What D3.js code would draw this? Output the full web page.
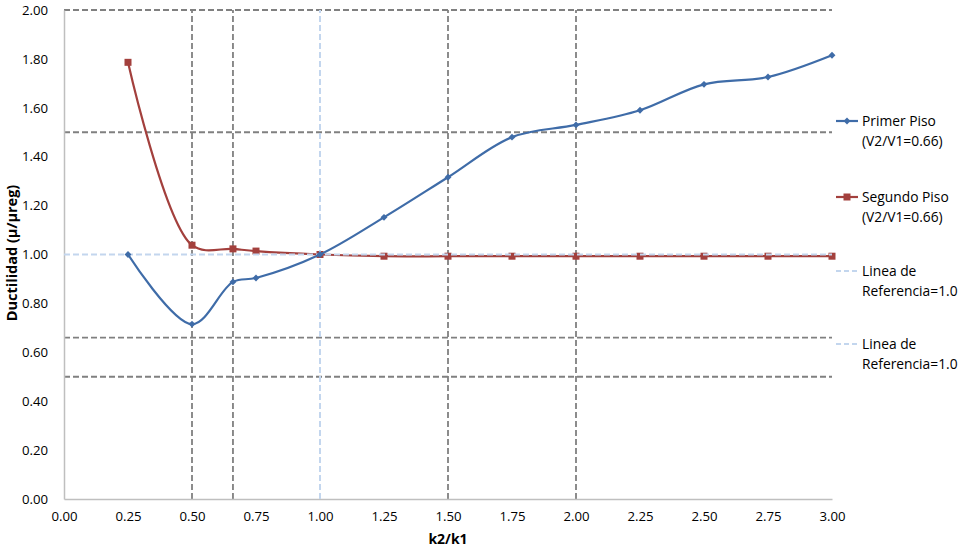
<!DOCTYPE html>
<html><head><meta charset="utf-8">
<script src="https://cdn.jsdelivr.net/npm/d3@7"></script>
<style>body{margin:0;background:#fff}svg{display:block}text{font-family:"Open Sans","Noto Sans",sans-serif}</style>
</head><body>
<svg id="c" width="963" height="547"></svg>
<script>
const xValues = [0.25, 0.5, 0.66, 0.75, 1.0, 1.25, 1.5, 1.75, 2.0, 2.25, 2.5, 2.75, 3.0];
const primerPiso = [1.00, 0.715, 0.888, 0.904, 1.00, 1.152, 1.316, 1.48, 1.53, 1.59, 1.696, 1.726, 1.815];
const segundoPiso = [1.786, 1.038, 1.023, 1.014, 1.00, 0.993, 0.993, 0.993, 0.993, 0.993, 0.993, 0.993, 0.993];
const refH = [[0, 1.0], [3, 1.0]];
const refV = [[1.0, 0], [1.0, 2.0]];
const gridX = [0.5, 0.66, 1.5, 2.0];
const gridY = [2.0, 1.5, 0.66, 0.5];
const xTicks = [0, 0.25, 0.5, 0.75, 1.0, 1.25, 1.5, 1.75, 2.0, 2.25, 2.5, 2.75, 3.0];
const yTicks = [0, 0.2, 0.4, 0.6, 0.8, 1.0, 1.2, 1.4, 1.6, 1.8, 2.0];
const legendItems = [
  {lines:["Primer Piso","(V2/V1=0.66)"], type:"blue"},
  {lines:["Segundo Piso","(V2/V1=0.66)"], type:"red"},
  {lines:["Linea de","Referencia=1.0"], type:"ref"},
  {lines:["Linea de","Referencia=1.0"], type:"ref"}
];

const svg = d3.select("#c");
const x = d3.scaleLinear().domain([0, 3]).range([64, 832]);
const y = d3.scaleLinear().domain([0, 2]).range([499, 10]);
const blue = "#3f6ca8", red = "#a3403d", refC = "#c3d6ee", gridC = "#808080";

svg.append("g").selectAll("line").data(gridY).join("line")
  .attr("x1", x(0)).attr("x2", x(3)).attr("y1", d => y(d)).attr("y2", d => y(d))
  .attr("stroke", gridC).attr("stroke-width", 1.8).attr("stroke-dasharray", "6,3");
svg.append("g").selectAll("line").data(gridX).join("line")
  .attr("x1", d => x(d)).attr("x2", d => x(d)).attr("y1", y(0)).attr("y2", y(2))
  .attr("stroke", gridC).attr("stroke-width", 1.8).attr("stroke-dasharray", "6,3");

const xAxis = svg.append("g").attr("transform", `translate(0,${y(0)})`)
  .call(d3.axisBottom(x).tickValues(xTicks).tickSize(0).tickPadding(13).tickFormat(d3.format(".2f")));
const yAxis = svg.append("g").attr("transform", `translate(${x(0)},0)`)
  .call(d3.axisLeft(y).tickValues(yTicks).tickSize(0).tickPadding(16).tickFormat(d3.format(".2f")));
[xAxis, yAxis].forEach(a => {
  a.select(".domain").attr("stroke", "#bfbfbf").attr("stroke-width", 1.5);
  a.selectAll("text").attr("font-size", 13.2).attr("fill", "#000").attr("font-family", '"Open Sans",sans-serif');
});

const line = d3.line().x(d => x(d[0])).y(d => y(d[1])).curve(d3.curveCatmullRom.alpha(0.5));
const pB = xValues.map((v, i) => [v, primerPiso[i]]);
const pR = xValues.map((v, i) => [v, segundoPiso[i]]);

svg.append("path").attr("d", line(pR)).attr("fill", "none").attr("stroke", red).attr("stroke-width", 2.2);
svg.append("g").selectAll("rect").data(pR).join("rect")
  .attr("x", d => x(d[0]) - 3.5).attr("y", d => y(d[1]) - 3.5).attr("width", 7).attr("height", 7).attr("fill", red);

const refLine = d3.line().x(d => x(d[0])).y(d => y(d[1]));
[refH, refV].forEach(r => svg.append("path").attr("d", refLine(r)).attr("fill", "none")
  .attr("stroke", refC).attr("stroke-width", 2).attr("stroke-dasharray", "6,3"));

svg.append("path").attr("d", line(pB)).attr("fill", "none").attr("stroke", blue).attr("stroke-width", 2.2);
svg.append("g").selectAll("path").data(pB).join("path")
  .attr("d", d3.symbol().type(d3.symbolDiamond2).size(30))
  .attr("transform", d => `translate(${x(d[0])},${y(d[1])})`).attr("fill", blue);

svg.append("text").attr("x", x(1.5)).attr("y", 544).attr("text-anchor", "middle")
  .attr("font-size", 14).attr("font-weight", "bold").text("k2/k1");
svg.append("text").attr("transform", `translate(17,253) rotate(-90)`).attr("text-anchor", "middle")
  .attr("font-size", 14.5).attr("font-weight", "bold").text("Ductilidad (µ/µreg)");

const legY = [121, 197, 271, 344];
legendItems.forEach((it, i) => {
  const g = svg.append("g").attr("transform", `translate(836,${legY[i]})`);
  if (it.type === "ref") {
    g.append("line").attr("x1", 0).attr("x2", 22).attr("y1", 0).attr("y2", 0)
      .attr("stroke", refC).attr("stroke-width", 2).attr("stroke-dasharray", "5,3");
  } else {
    const c = it.type === "blue" ? blue : red;
    g.append("line").attr("x1", 0).attr("x2", 22).attr("y1", 0).attr("y2", 0).attr("stroke", c).attr("stroke-width", 2.2);
    if (it.type === "blue") g.append("path").attr("d", d3.symbol().type(d3.symbolDiamond2).size(30)).attr("transform", "translate(11,0)").attr("fill", c);
    else g.append("rect").attr("x", 7.5).attr("y", -3.5).attr("width", 7).attr("height", 7).attr("fill", c);
  }
  it.lines.forEach((t, j) => g.append("text").attr("x", 26).attr("y", 5 + j * 20).attr("font-size", 13.8).text(t));
});
</script>
</body></html>
